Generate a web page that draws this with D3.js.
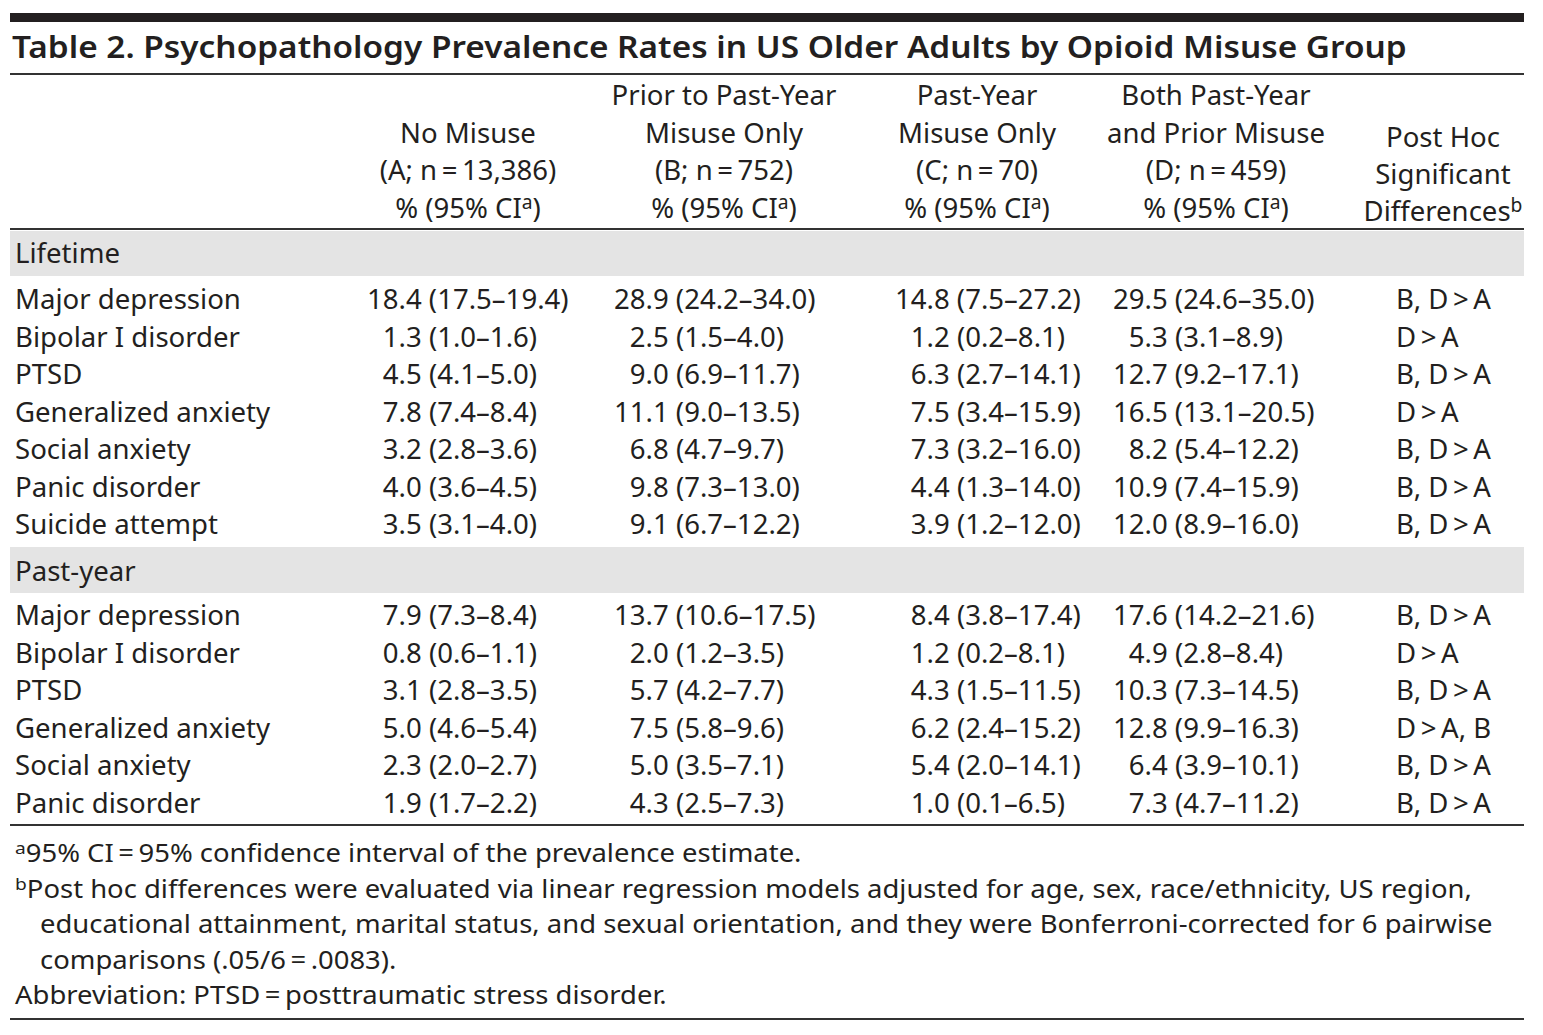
<!DOCTYPE html>
<html><head><meta charset="utf-8">
<script src="https://cdn.jsdelivr.net/npm/d3@7"></script>
<style>
html,body{margin:0;padding:0;background:#fff;}
text{white-space:pre;}
</style></head>
<body>
<svg id="c" width="1543" height="1035"></svg>
<script>
// ---------------- DATA ----------------
const titleText = "Table 2. Psychopathology Prevalence Rates in US Older Adults by Opioid Misuse Group";
const groupHeaders = [
  ["No Misuse", "(A; n\u2009=\u200913,386)"],
  ["Prior to Past-Year", "Misuse Only", "(B; n\u2009=\u2009752)"],
  ["Past-Year", "Misuse Only", "(C; n\u2009=\u200970)"],
  ["Both Past-Year", "and Prior Misuse", "(D; n\u2009=\u2009459)"]
];
const postHocHeader = ["Post Hoc", "Significant", "Differences"];
const sections = ["Lifetime", "Past-year"];

const lifetimeLabels = ["Major depression","Bipolar I disorder","PTSD","Generalized anxiety","Social anxiety","Panic disorder","Suicide attempt"];
const lifetimeA = ["18.4 (17.5–19.4)","1.3 (1.0–1.6)","4.5 (4.1–5.0)","7.8 (7.4–8.4)","3.2 (2.8–3.6)","4.0 (3.6–4.5)","3.5 (3.1–4.0)"];
const lifetimeB = ["28.9 (24.2–34.0)","2.5 (1.5–4.0)","9.0 (6.9–11.7)","11.1 (9.0–13.5)","6.8 (4.7–9.7)","9.8 (7.3–13.0)","9.1 (6.7–12.2)"];
const lifetimeC = ["14.8 (7.5–27.2)","1.2 (0.2–8.1)","6.3 (2.7–14.1)","7.5 (3.4–15.9)","7.3 (3.2–16.0)","4.4 (1.3–14.0)","3.9 (1.2–12.0)"];
const lifetimeD = ["29.5 (24.6–35.0)","5.3 (3.1–8.9)","12.7 (9.2–17.1)","16.5 (13.1–20.5)","8.2 (5.4–12.2)","10.9 (7.4–15.9)","12.0 (8.9–16.0)"];
const lifetimePostHoc = ["B, D > A","D > A","B, D > A","D > A","B, D > A","B, D > A","B, D > A"];

const pastYearLabels = ["Major depression","Bipolar I disorder","PTSD","Generalized anxiety","Social anxiety","Panic disorder"];
const pastYearA = ["7.9 (7.3–8.4)","0.8 (0.6–1.1)","3.1 (2.8–3.5)","5.0 (4.6–5.4)","2.3 (2.0–2.7)","1.9 (1.7–2.2)"];
const pastYearB = ["13.7 (10.6–17.5)","2.0 (1.2–3.5)","5.7 (4.2–7.7)","7.5 (5.8–9.6)","5.0 (3.5–7.1)","4.3 (2.5–7.3)"];
const pastYearC = ["8.4 (3.8–17.4)","1.2 (0.2–8.1)","4.3 (1.5–11.5)","6.2 (2.4–15.2)","5.4 (2.0–14.1)","1.0 (0.1–6.5)"];
const pastYearD = ["17.6 (14.2–21.6)","4.9 (2.8–8.4)","10.3 (7.3–14.5)","12.8 (9.9–16.3)","6.4 (3.9–10.1)","7.3 (4.7–11.2)"];
const pastYearPostHoc = ["B, D > A","D > A","B, D > A","D > A, B","B, D > A","B, D > A"];

const footnotes = [
  {sup:"a", text:"95% CI\u2009=\u200995% confidence interval of the prevalence estimate.", indent:false},
  {sup:"b", text:"Post hoc differences were evaluated via linear regression models adjusted for age, sex, race/ethnicity, US region,", indent:false},
  {sup:"", text:"educational attainment, marital status, and sexual orientation, and they were Bonferroni-corrected for 6 pairwise", indent:true},
  {sup:"", text:"comparisons (.05/6\u2009=\u2009.0083).", indent:true},
  {sup:"", text:"Abbreviation: PTSD\u2009=\u2009posttraumatic stress disorder.", indent:false}
];

// ---------------- LAYOUT ----------------
const INK = "#231f20";
const FONT = "'Noto Sans', 'Open Sans', sans-serif";
const svg = d3.select("#c");
const X0 = 10, X1 = 1524;

function measure(str, size, weight) {
  const t = svg.append("text").attr("font-family", FONT).attr("font-size", size)
    .attr("font-weight", weight || 400).text(str);
  const w = t.node().getComputedTextLength();
  t.remove();
  return w;
}
const BODY = 27, HEAD = 27.5, TITLE = 31, FOOT = 24.5;
const TW = 600;
const sxBody = 226 / measure("Major depression", BODY);
const sxHead = 218 / measure("and Prior Misuse", HEAD);
const sxTitle = 1395 / measure(titleText, TITLE, TW);
const sxFoot = 652 / measure("Abbreviation: PTSD\u2009=\u2009posttraumatic stress disorder.", FOOT);

function txt(x, y, str, size, sx, anchor, weight) {
  return svg.append("text")
    .attr("transform", `translate(${x},${y}) scale(${sx},1)`)
    .attr("font-family", FONT).attr("font-size", size)
    .attr("font-weight", weight || 400)
    .attr("fill", INK).attr("text-anchor", anchor || "start")
    .text(str);
}

// rules
svg.append("rect").attr("x", X0).attr("y", 13).attr("width", X1 - X0).attr("height", 9).attr("fill", INK);
[[74, 2], [229, 2.2], [825, 2.2], [1019, 2.2]].forEach(([y, w]) => {
  svg.append("line").attr("x1", X0).attr("x2", X1).attr("y1", y).attr("y2", y)
    .attr("stroke", "#333").attr("stroke-width", w);
});

// title
txt(12, 58, titleText, TITLE, sxTitle, "start", TW);

// header columns
const colCenters = [468, 724, 977, 1216];
const headerY = d3.scaleLinear().domain([0, 3]).range([105, 218]);
const SUP = 0.7;
groupHeaders.forEach((lines, i) => {
  const all = lines.concat(["%"]);
  const n = all.length;
  all.forEach((ln, j) => {
    const row = 4 - n + j;
    if (ln === "%") {
      const t = txt(colCenters[i], headerY(row), "% (95% CI", HEAD, sxHead, "middle");
      t.append("tspan").attr("font-size", HEAD * SUP).attr("dy", -9).text("a");
      t.append("tspan").attr("dy", 9).text(")");
    } else {
      txt(colCenters[i], headerY(row), ln, HEAD, sxHead, "middle");
    }
  });
});
const phY = d3.scaleLinear().domain([0, 2]).range([147, 221]);
postHocHeader.forEach((ln, j) => {
  const t = txt(1443, phY(j), ln, HEAD, sxHead, "middle");
  if (j === 2) t.append("tspan").attr("font-size", HEAD * SUP).attr("dy", -9).text("b");
});

// body
const colStarts = [367, 614, 895, 1113];
const postHocX = 1396;
const digitW = measure("0", BODY) * sxBody;

const sectionData = [
  {name: sections[0], band: [231, 276], labelY: 263, rowY: d3.scaleLinear().domain([0, 6]).range([309, 534]),
   labels: lifetimeLabels, cols: [lifetimeA, lifetimeB, lifetimeC, lifetimeD], ph: lifetimePostHoc},
  {name: sections[1], band: [547, 593], labelY: 581, rowY: d3.scaleLinear().domain([0, 5]).range([625, 813]),
   labels: pastYearLabels, cols: [pastYearA, pastYearB, pastYearC, pastYearD], ph: pastYearPostHoc}
];

sectionData.forEach(sec => {
  svg.append("rect").attr("x", X0).attr("y", sec.band[0]).attr("width", X1 - X0)
    .attr("height", sec.band[1] - sec.band[0]).attr("fill", "#e4e4e4");
  txt(15, sec.labelY, sec.name, BODY, sxBody);
  sec.labels.forEach((lab, r) => {
    const y = sec.rowY(r);
    txt(15, y, lab, BODY, sxBody);
    sec.cols.forEach((col, c) => {
      const cell = col[r];
      const est = cell.split(" ")[0];
      const pad = est.length < 4 ? digitW : 0;
      txt(colStarts[c] + pad, y, cell, BODY, sxBody);
    });
    txt(postHocX, y, sec.ph[r].replace(" > ", "\u2009>\u2009"), BODY, sxBody);
  });
});

// footnotes
const footY = d3.scaleLinear().domain([0, 4]).range([862, 1004]);
footnotes.forEach((f, i) => {
  const x = f.indent ? 40 : 15;
  const t = txt(x, footY(i), "", FOOT, sxFoot);
  if (f.sup) t.append("tspan").attr("font-size", FOOT * SUP).attr("dy", -8).text(f.sup);
  t.append("tspan").attr("dy", f.sup ? 8 : 0).text(f.text);
});
</script>
</body></html>
